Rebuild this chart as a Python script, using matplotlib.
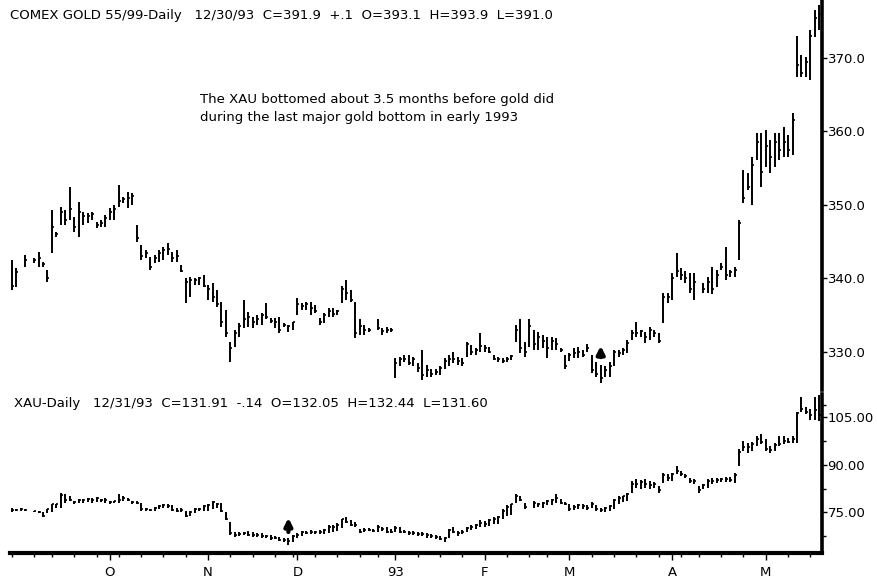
import numpy as np
import pandas as pd
import matplotlib
matplotlib.use("Agg")
import matplotlib.pyplot as plt

plt.rcParams['font.family'] = ['DejaVu Sans']

nan = np.nan

# trading calendar, 31 Aug 1992 onward
holidays = ["1992-09-07", "1992-11-26", "1992-12-25", "1993-01-01",
            "1993-02-15", "1993-04-09"]
n_days = 182
days = pd.date_range("1992-08-31", periods=n_days,
                     freq=pd.offsets.CustomBusinessDay(holidays=holidays))

month_labels = ["O", "N", "D", "93", "F", "M", "A", "M"]

# COMEX gold, daily high / low / close
gold_high = [342.5, 341.4, nan, 343.2, nan, 342.8, 343.6, 342.2, 341.2, 349.3,
             346.3, 349.7, 349.3, 352.4, 348.4, 350.4, 349.0, 348.9, 349.0, 347.7,
             348.0, 348.6, 349.6, 350.0, 352.7, 351.1, 351.7, 351.6, 347.3, 344.6,
             343.9, 342.9, 343.2, 343.9, 344.3, 344.8, 343.6, 343.9, 341.8, 340.1,
             340.2, 340.1, 340.2, 340.5, 339.1, 339.4, 338.4, 336.8, 335.7, 331.4,
             333.0, 333.9, 337.1, 335.4, 334.8, 335.0, 335.3, 336.7, 334.6, 334.6,
             334.8, 333.9, 333.7, 334.1, 337.3, 336.7, 336.8, 336.8, 336.4, 334.6,
             335.3, 336.0, 336.0, 335.7, 339.0, 339.8, 338.4, 336.8, 334.4, 333.7,
             333.3, nan, 334.4, 333.3, 333.4, 333.3, 329.2, 329.3, 329.6, 329.6,
             329.3, 328.5, 330.3, 328.2, 327.6, 327.6, 328.0, 329.2, 329.6, 330.0,
             329.3, 329.2, 331.4, 330.9, 330.5, 332.6, 330.9, 330.7, 329.6, 329.3,
             329.2, 329.3, 329.6, 333.7, 334.4, 331.4, 334.4, 333.0, 332.7, 332.3,
             332.0, 332.0, 331.9, 330.5, 329.6, 329.9, 330.5, 330.7, 330.3, 331.0,
             329.6, 328.6, 328.2, 328.0, 328.6, 330.3, 330.3, 330.5, 331.6, 333.0,
             334.0, 333.0, 332.7, 333.4, 333.0, 332.6, 338.0, 338.0, 340.7, 343.5,
             341.4, 341.0, 340.7, 340.7, nan, 339.4, 340.2, 341.6, 341.2, 342.1,
             344.3, 341.2, 341.6, 348.0, 354.8, 354.4, 356.5, 359.8, 359.8, 360.2,
             358.8, 359.8, 359.8, 360.6, 359.5, 362.5, 373.0, 370.4, 370.1, 373.8,
             376.5, 377.2]
gold_low = [338.4, 338.8, nan, 341.6, nan, 342.1, 341.6, 341.6, 339.5, 343.5,
            345.6, 347.3, 347.3, 348.0, 346.3, 345.6, 347.3, 347.6, 348.0, 346.9,
            347.0, 347.0, 348.0, 348.0, 349.7, 350.3, 349.6, 350.0, 345.0, 342.5,
            342.8, 341.2, 342.1, 342.2, 342.5, 343.2, 342.2, 342.2, 340.9, 336.7,
            337.5, 339.1, 339.1, 338.8, 337.1, 336.8, 336.1, 333.4, 332.0, 328.6,
            330.7, 332.0, 333.3, 333.4, 333.3, 333.7, 333.7, 334.4, 333.9, 333.3,
            332.6, 333.4, 332.7, 333.0, 335.0, 335.7, 335.7, 335.0, 335.3, 333.7,
            333.9, 334.8, 334.8, 335.0, 336.7, 337.1, 336.8, 331.9, 332.3, 332.3,
            332.7, nan, 333.0, 332.3, 332.6, 332.7, 326.5, 328.0, 328.6, 328.2,
            328.0, 327.3, 326.2, 326.6, 326.6, 326.9, 326.8, 327.6, 328.0, 328.5,
            328.2, 328.0, 329.3, 329.6, 329.6, 330.0, 330.0, 329.9, 328.9, 328.6,
            328.5, 328.6, 328.9, 331.4, 329.9, 329.3, 330.7, 330.3, 330.3, 330.5,
            329.2, 330.3, 330.3, 330.0, 327.6, 328.8, 329.2, 329.2, 329.3, 330.0,
            327.1, 326.6, 325.8, 326.6, 326.6, 328.0, 329.3, 329.6, 329.9, 331.6,
            332.0, 332.0, 331.2, 331.6, 332.0, 331.2, 333.9, 336.7, 337.1, 340.2,
            339.8, 339.4, 338.0, 337.1, nan, 338.0, 338.0, 337.9, 338.8, 341.2,
            339.8, 340.2, 340.2, 342.5, 350.3, 352.0, 350.0, 356.1, 352.4, 355.2,
            354.4, 355.2, 356.1, 356.5, 356.5, 356.8, 367.4, 367.4, 367.4, 367.0,
            372.9, 373.8]
gold_close = [339.0, 340.8, nan, 342.5, nan, 342.5, 342.8, 342.0, 340.0, 347.0,
              346.0, 349.0, 348.0, 349.5, 347.0, 349.0, 348.5, 348.5, 348.8, 347.2,
              347.5, 348.2, 349.0, 349.5, 350.5, 350.8, 351.0, 351.2, 345.5, 343.0,
              343.5, 341.5, 342.8, 343.5, 343.8, 344.0, 342.8, 343.0, 341.0, 339.5,
              339.8, 339.8, 340.0, 339.0, 338.5, 337.5, 336.5, 334.0, 332.5, 330.5,
              332.5, 333.5, 334.5, 334.8, 334.0, 334.5, 335.0, 334.8, 334.2, 334.0,
              333.0, 333.6, 333.5, 334.0, 336.5, 336.2, 336.5, 336.0, 335.5, 334.0,
              335.0, 335.5, 335.2, 335.5, 338.5, 338.0, 337.0, 332.5, 333.5, 333.0,
              333.0, nan, 333.2, 332.8, 333.0, 333.0, 328.5, 329.0, 329.0, 328.5,
              329.0, 327.8, 326.8, 327.5, 327.0, 327.3, 327.8, 328.8, 329.0, 329.0,
              328.8, 328.5, 331.0, 330.0, 330.2, 330.8, 330.5, 330.0, 329.0, 329.0,
              328.8, 329.0, 329.4, 333.0, 330.5, 330.0, 333.5, 331.0, 332.0, 331.5,
              330.5, 331.5, 331.0, 330.2, 328.0, 329.5, 329.8, 330.0, 329.6, 330.5,
              327.5, 327.0, 326.5, 327.5, 328.0, 330.0, 329.8, 330.2, 331.2, 332.5,
              332.5, 332.8, 332.0, 333.0, 332.5, 331.5, 337.5, 337.5, 340.0, 341.0,
              340.5, 340.0, 338.5, 339.5, nan, 338.5, 339.5, 338.5, 340.5, 341.5,
              340.5, 340.8, 341.2, 347.5, 351.0, 352.5, 355.5, 358.5, 354.5, 358.0,
              356.5, 358.5, 357.5, 358.5, 357.5, 361.5, 369.0, 368.0, 369.5, 373.0,
              375.5, 376.0]

# XAU index, daily high / low / close
xau_high = [76.5, 76.2, 76.5, 76.0, nan, 75.6, 75.3, 75.0, 76.2, 77.8,
            77.8, 81.2, 80.9, 80.3, 78.7, 79.3, 79.3, 79.6, 79.6, 79.9,
            79.3, 79.6, 78.7, 78.7, 80.9, 80.3, 79.6, 78.7, 78.7, 78.1,
            76.5, 76.2, 76.8, 77.2, 77.8, 77.8, 77.2, 76.5, 76.5, 75.3,
            75.6, 76.5, 76.5, 77.2, 77.8, 78.7, 78.1, 78.1, 75.0, 71.9,
            68.8, 68.8, 68.8, 69.1, 68.8, 68.5, 68.5, 67.9, 67.9, 67.6,
            67.3, 67.0, 67.0, 67.9, 68.5, 69.1, 69.1, 69.4, 69.1, 69.4,
            69.7, 71.0, 71.0, 71.6, 73.1, 73.5, 72.5, 71.9, 69.7, 70.0,
            70.0, 69.7, 71.0, 70.4, 70.4, 69.7, 70.7, 70.4, 69.4, 69.1,
            69.1, 68.8, 68.8, 68.5, 68.2, 67.9, 67.6, 67.3, 69.7, 70.4,
            69.1, 69.4, 70.4, 71.0, 71.3, 72.5, 72.2, 73.1, 73.5, 73.8,
            76.2, 77.2, 77.8, 80.9, 80.3, 78.1, nan, 78.7, 78.1, 78.4,
            79.0, 79.3, 80.9, 79.3, 78.4, 77.8, 77.2, 77.8, 77.8, 77.2,
            78.4, 77.2, 76.5, 76.8, 77.2, 79.3, 80.3, 80.3, 81.2, 84.9,
            85.5, 85.2, 85.5, 84.9, 84.6, 83.4, 87.4, 87.1, 87.4, 89.6,
            88.0, 87.1, 85.8, 85.5, 83.4, 84.0, 85.5, 85.8, 85.8, 85.8,
            86.1, 86.1, 87.4, 94.8, 97.3, 96.7, 97.0, 98.8, 99.5, 97.9,
            95.7, 96.7, 98.8, 98.8, 98.2, 98.8, 106.6, 111.2, 108.1, 107.5,
            111.2, 111.8]
xau_low = [75.0, 75.3, 75.3, 75.5, nan, 75.0, 74.7, 73.5, 74.7, 75.0,
           76.5, 76.5, 78.1, 78.7, 77.8, 78.1, 78.1, 78.4, 78.1, 78.4,
           78.4, 78.1, 77.8, 78.1, 78.1, 78.7, 78.7, 77.8, 77.8, 75.6,
           75.6, 75.3, 75.3, 76.2, 76.5, 76.5, 75.3, 75.0, 75.0, 73.5,
           73.8, 74.7, 75.3, 75.6, 75.6, 76.2, 76.5, 75.0, 72.5, 67.9,
           67.3, 67.6, 67.9, 67.6, 67.3, 67.3, 67.0, 67.0, 66.3, 66.6,
           66.0, 65.7, 64.8, 65.7, 66.9, 67.6, 68.2, 68.2, 68.2, 68.2,
           68.2, 68.5, 68.8, 69.1, 70.0, 71.6, 70.7, 70.4, 68.5, 68.8,
           69.1, 68.8, 68.8, 69.1, 68.5, 68.5, 68.8, 68.5, 68.5, 67.9,
           67.9, 67.6, 67.6, 67.0, 67.0, 66.6, 66.3, 65.7, 67.0, 68.5,
           67.6, 68.2, 68.8, 69.4, 69.7, 70.4, 70.4, 70.7, 71.3, 71.3,
           73.1, 73.8, 74.1, 78.1, 78.7, 76.2, nan, 76.5, 76.8, 76.5,
           77.2, 77.2, 78.1, 77.5, 77.2, 75.6, 75.9, 76.2, 76.2, 75.9,
           76.5, 75.6, 75.0, 75.0, 75.6, 76.2, 77.8, 78.4, 78.7, 81.2,
           82.7, 82.4, 82.7, 82.4, 82.7, 81.2, 84.3, 84.9, 84.9, 87.1,
           86.5, 85.8, 84.3, 84.0, 81.2, 82.4, 82.7, 84.0, 84.3, 84.6,
           84.6, 84.6, 84.3, 89.6, 94.2, 93.6, 94.2, 95.7, 96.4, 94.2,
           93.6, 94.2, 95.7, 96.4, 96.7, 96.7, 96.7, 106.6, 105.7, 104.1,
           104.1, 103.5]
xau_close = [75.8, 75.8, 76.0, 75.8, nan, 75.3, 75.0, 74.0, 76.0, 77.5,
             77.5, 80.5, 79.0, 79.0, 78.2, 79.0, 78.8, 79.2, 79.0, 79.5,
             78.8, 79.0, 78.2, 78.5, 79.0, 79.5, 79.0, 78.2, 78.0, 76.0,
             76.0, 75.8, 76.5, 77.0, 77.2, 77.0, 75.8, 75.5, 75.8, 74.0,
             75.0, 76.0, 76.2, 77.0, 77.2, 78.2, 77.5, 75.5, 73.0, 68.5,
             68.0, 68.2, 68.5, 68.0, 68.0, 67.8, 67.5, 67.5, 67.0, 67.0,
             66.5, 66.5, 66.0, 67.5, 68.0, 68.8, 68.5, 69.0, 68.8, 69.0,
             69.4, 70.5, 70.5, 71.0, 72.8, 72.0, 71.0, 71.0, 69.0, 69.5,
             69.5, 69.2, 70.5, 69.8, 69.0, 69.0, 70.2, 69.0, 69.0, 68.5,
             68.5, 68.2, 68.2, 67.8, 67.5, 67.2, 66.8, 67.0, 69.5, 69.0,
             68.5, 69.0, 70.0, 70.5, 71.0, 71.8, 71.5, 72.5, 73.0, 73.5,
             75.5, 76.8, 77.5, 80.0, 79.0, 76.8, nan, 78.0, 77.5, 78.0,
             78.5, 78.8, 79.5, 78.0, 77.8, 76.2, 76.8, 77.2, 77.0, 76.5,
             77.5, 76.0, 75.8, 76.5, 77.0, 79.0, 79.5, 80.0, 80.8, 84.0,
             84.0, 84.5, 84.0, 83.5, 84.0, 82.0, 86.8, 85.8, 87.0, 88.0,
             87.2, 86.5, 85.0, 84.8, 82.0, 83.5, 85.0, 85.0, 85.2, 85.5,
             85.5, 85.2, 86.8, 94.0, 95.5, 95.5, 96.5, 98.0, 97.0, 95.0,
             94.5, 96.0, 96.5, 97.5, 97.2, 98.0, 106.0, 107.5, 106.5, 105.5,
             107.0, 105.5]

x = np.arange(n_days)
new_month = np.r_[True, days.month[1:] != days.month[:-1]]
month_start = np.flatnonzero(new_month)[2:]          # October onward
week_start = np.flatnonzero(np.r_[True, days.weekday[1:] < days.weekday[:-1]])

fig = plt.figure(figsize=(8.77, 5.84), dpi=100)
left, width = 10 / 877, 812 / 877
ax_g = fig.add_axes([left, 1 - 390 / 584, width, 390 / 584])
ax_x = fig.add_axes([left, 31 / 584, width, 159 / 584])


def draw_bars(ax, hi, lo, cl):
    hi, lo, cl = np.array(hi), np.array(lo), np.array(cl)
    ax.vlines(x, lo, hi, color="black", lw=1.4)
    ax.hlines(cl, x, x + 0.45, color="black", lw=1.2)


draw_bars(ax_g, gold_high, gold_low, gold_close)
draw_bars(ax_x, xau_high, xau_low, xau_close)

for ax in (ax_g, ax_x):
    ax.set_xlim(-0.4, 181.6)
    for s in ("left", "top", "bottom"):
        ax.spines[s].set_visible(False)
    ax.spines["right"].set_linewidth(2.6)
    ax.yaxis.tick_right()
    ax.tick_params(axis="y", length=3.5, width=1, pad=0.5, labelsize=9.5)
    ax.set_facecolor("none")

ax_g.set_ylim(324.8, 377.9)
ax_g.set_yticks([330, 340, 350, 360, 370])
ax_g.set_yticklabels([f"{v:.1f}" for v in [330, 340, 350, 360, 370]])
ax_g.set_xticks([])

ax_x.set_ylim(62.3, 112.1)
ax_x.set_yticks([75, 90, 105])
ax_x.set_yticklabels([f"{v:.2f}" for v in [75, 90, 105]])
ax_x.set_yticks([67.5, 82.5, 97.5, 108.5], minor=True)
ax_x.tick_params(axis="y", which="minor", length=3, width=1)
ax_x.spines["bottom"].set_visible(True)
ax_x.spines["bottom"].set_linewidth(3)
ax_x.set_xticks(month_start)
ax_x.set_xticklabels(month_labels)
ax_x.set_xticks(week_start, minor=True)
ax_x.tick_params(axis="x", which="major", length=5, width=1, pad=4, labelsize=9.5)
ax_x.tick_params(axis="x", which="minor", length=3, width=1)

# bottom markers
arrow = dict(arrowstyle="-|>", color="black", lw=3, mutation_scale=11)
ax_g.annotate("", xy=(132, 331.2), xytext=(132, 328.9), arrowprops=arrow)
ax_x.annotate("", xy=(62, 74.2), xytext=(62, 68.0), arrowprops=arrow)

fig.text(10 / 877, 1 - 15 / 584,
         "COMEX GOLD 55/99-Daily   12/30/93  C=391.9  +.1  O=393.1  H=393.9  L=391.0",
         fontsize=9.5, va="center", ha="left")
fig.text(14 / 877, 1 - 403 / 584,
         "XAU-Daily   12/31/93  C=131.91  -.14  O=132.05  H=132.44  L=131.60",
         fontsize=9.5, va="center", ha="left")
fig.text(200 / 877, 1 - 108 / 584,
         "The XAU bottomed about 3.5 months before gold did\n"
         "during the last major gold bottom in early 1993",
         fontsize=9.5, va="center", ha="left", linespacing=1.5)

fig.savefig("out.png", dpi=100)
